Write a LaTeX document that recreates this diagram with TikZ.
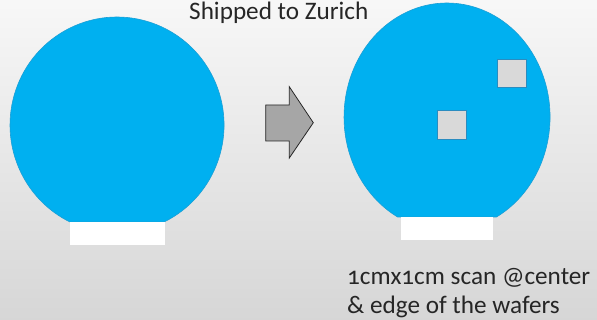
\documentclass[tikz,border=0pt]{standalone}
\usepackage{fontspec}
\setmainfont{Carlito}[RawFeature=+onum]
\begin{document}
\begin{tikzpicture}[x=1pt,y=-1pt,
  wafer/.style={fill=waferblue,draw=waferedge,line width=0.6pt},
  flat/.style={fill=white,draw=none},
  scanbox/.style={fill=boxgray,draw=boxedge,line width=0.8pt},
  lbl/.style={inner sep=0pt,font=\fontsize{25.2}{28}\selectfont,text=black!85}]
\definecolor{waferblue}{HTML}{00B0F0}
\definecolor{waferedge}{HTML}{1A9FD6}
\definecolor{boxgray}{HTML}{D9D9D9}
\definecolor{boxedge}{HTML}{2A8CC0}
\definecolor{arrowgray}{HTML}{A6A6A6}
\shade[top color=black!3,bottom color=black!16] (0,0) rectangle (597,320);
\useasboundingbox (0,0) rectangle (597,320);
% left wafer
\draw[wafer] (164.1,222) arc[start angle=63.9,end angle=-243.9,x radius=107,y radius=108] -- cycle;
\fill[flat] (70,222) rectangle (165,245);
% right wafer
\draw[wafer] (496.5,217) arc[start angle=61.3,end angle=-241.3,x radius=103,y radius=114] -- cycle;
\fill[flat] (401,217) rectangle (493,240);
\draw[scanbox] (497.3,59) rectangle (526.3,87.7);
\draw[scanbox] (437.3,110.3) rectangle (466.7,139.3);
% arrow
\draw[fill=arrowgray,draw=black!85,line width=0.8pt,line join=miter]
  (265.7,105) -- (289.3,105) -- (289.3,86.7) -- (313.3,122.7) -- (289.3,158) -- (289.3,141) -- (265.7,141) -- cycle;
% texts
\node[lbl,anchor=base west] (title) at (189,20) {Shipped to Zurich};
\node[lbl,anchor=base west] (l1) at (347,285) {1cmx1cm scan @center};
\node[lbl,anchor=base west] (l2) at (347,313) {\& edge of the wafers};
\end{tikzpicture}
\end{document}
